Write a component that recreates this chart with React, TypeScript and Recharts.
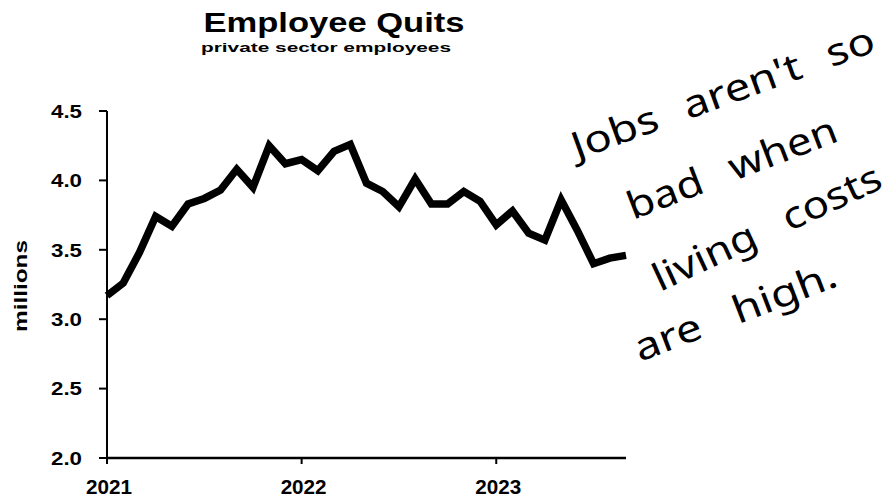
import React from 'react';
import { LineChart, Line, XAxis, YAxis } from 'recharts';

const months = [
  '2021-01','2021-02','2021-03','2021-04','2021-05','2021-06','2021-07','2021-08','2021-09','2021-10','2021-11','2021-12',
  '2022-01','2022-02','2022-03','2022-04','2022-05','2022-06','2022-07','2022-08','2022-09','2022-10','2022-11','2022-12',
  '2023-01','2023-02','2023-03','2023-04','2023-05','2023-06','2023-07','2023-08','2023-09',
];
const quits = [
  3.17, 3.26, 3.48, 3.74, 3.67, 3.83, 3.87, 3.93, 4.08, 3.95, 4.25, 4.12,
  4.15, 4.07, 4.21, 4.26, 3.98, 3.92, 3.81, 4.01, 3.83, 3.83, 3.92, 3.85,
  3.68, 3.78, 3.62, 3.57, 3.86, 3.64, 3.40, 3.44, 3.46,
];
const yearTicks = [0, 12, 24];
const yearLabels = ['2021', '2022', '2023'];
const yTicks = [2.0, 2.5, 3.0, 3.5, 4.0, 4.5];

const title = 'Employee Quits';
const subtitle = 'private sector employees';
const yLabel = 'millions';
const noteLines = ["Jobs aren't so", 'bad when', 'living costs', 'are high.'];

const table = months.map((m, i) => ({ t: i, month: m, quits: quits[i] }));

const FONT = '"Liberation Sans", Arial, Helvetica, sans-serif';

const YTick = (props: any) => {
  const { x, y, payload } = props;
  return (
    <text x={x} y={y} dy="0.36em" textAnchor="end" fontFamily={FONT} fontWeight={700} fontSize={19}
      fill="#000" textLength={31} lengthAdjust="spacingAndGlyphs">
      {Number(payload.value).toFixed(1)}
    </text>
  );
};

const XTick = (props: any) => {
  const { x, y, payload } = props;
  const idx = yearTicks.indexOf(payload.value);
  return (
    <text x={x + 2} y={y} dy="0.71em" textAnchor="middle" fontFamily={FONT} fontWeight={700} fontSize={21}
      fill="#000" textLength={46} lengthAdjust="spacingAndGlyphs">
      {idx >= 0 ? yearLabels[idx] : ''}
    </text>
  );
};

const notes = [
  { x: 577, y: 160, a: -20, len: 320, ws: 14 },
  { x: 633, y: 220, a: -21, len: 222, ws: 16 },
  { x: 660, y: 292, a: -25, len: 248, ws: 18 },
  { x: 640, y: 362, a: -21, len: 214, ws: 20 },
];

export default function App() {
  return (
    <div style={{ position: 'absolute', left: 0, top: 0, width: 896, height: 504, background: '#fff', overflow: 'hidden' }}>
      <LineChart width={896} height={504} data={table} margin={{ top: 111, right: 270, bottom: 16, left: 47 }}>
        <XAxis
          dataKey="t"
          type="number"
          domain={[0, 32]}
          ticks={yearTicks}
          tick={<XTick />}
          tickSize={6}
          tickMargin={15}
          height={30}
          axisLine={{ stroke: '#000', strokeWidth: 2.5 }}
          tickLine={{ stroke: '#000', strokeWidth: 2 }}
          interval={0}
        />
        <YAxis
          type="number"
          domain={[2, 4.5]}
          ticks={yTicks}
          width={60}
          tick={<YTick />}
          tickSize={8}
          tickMargin={17}
          axisLine={{ stroke: '#000', strokeWidth: 2 }}
          tickLine={{ stroke: '#000', strokeWidth: 2 }}
          interval={0}
        />
        <Line type="linear" dataKey="quits" stroke="#000" strokeWidth={7.5} dot={false}
          isAnimationActive={false} strokeLinejoin="miter" strokeLinecap="butt" />
      </LineChart>
      <svg width={896} height={504} style={{ position: 'absolute', left: 0, top: 0, pointerEvents: 'none' }}>
        <text x={334} y={32} textAnchor="middle" fontFamily={FONT} fontWeight={700} fontSize={27} fill="#000"
          textLength={261} lengthAdjust="spacingAndGlyphs">{title}</text>
        <text x={326} y={52} textAnchor="middle" fontFamily={FONT} fontWeight={700} fontSize={13} fill="#000"
          textLength={250} lengthAdjust="spacingAndGlyphs">{subtitle}</text>
        <text x={0} y={0} transform="translate(27,286) rotate(-90)" textAnchor="middle" fontFamily={FONT}
          fontWeight={700} fontSize={19} fill="#000" textLength={92} lengthAdjust="spacingAndGlyphs">{yLabel}</text>
        {noteLines.map((line, i) => (
          <text key={i} x={notes[i].x} y={notes[i].y} transform={`rotate(${notes[i].a}, ${notes[i].x}, ${notes[i].y})`}
            fontFamily='"Noto Sans", sans-serif' fontWeight={400} fontSize={38} fill="#000"
            textLength={notes[i].len} lengthAdjust="spacingAndGlyphs"
            style={{ wordSpacing: `${notes[i].ws}px`, whiteSpace: 'pre' }}>{line}</text>
        ))}
      </svg>
    </div>
  );
}
